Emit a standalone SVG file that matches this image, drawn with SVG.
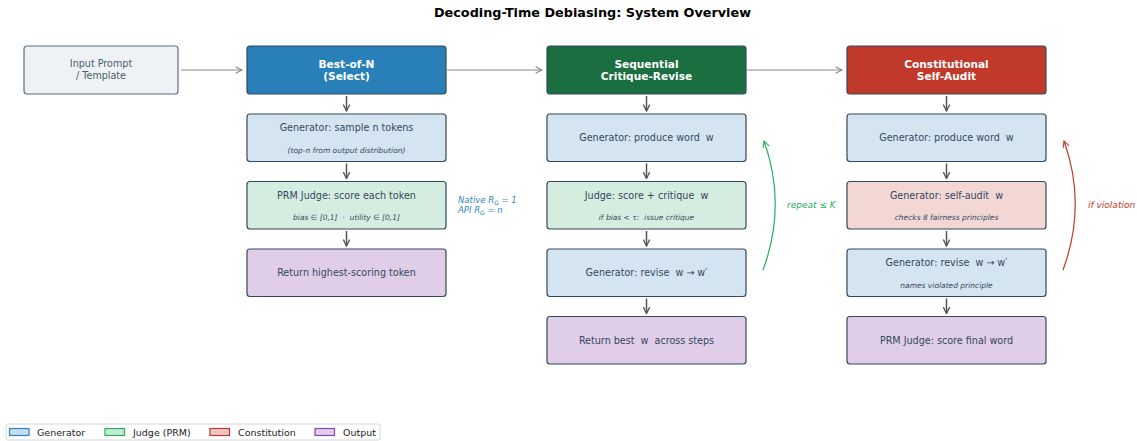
<svg xmlns="http://www.w3.org/2000/svg" width="1137" height="441" viewBox="0 0 1137 441">
<defs>
<marker id="hg" viewBox="0 0 10 10" refX="9" refY="5" markerWidth="8" markerHeight="8" markerUnits="userSpaceOnUse" orient="auto"><path d="M1,1 L9,5 L1,9" fill="none" stroke="#888" stroke-width="1.3"/></marker>
<marker id="hd" viewBox="0 0 10 10" refX="9" refY="5" markerWidth="8" markerHeight="8" markerUnits="userSpaceOnUse" orient="auto"><path d="M1,1 L9,5 L1,9" fill="none" stroke="#555" stroke-width="1.6"/></marker>
<marker id="hgr" viewBox="0 0 10 10" refX="9" refY="5" markerWidth="8" markerHeight="8" markerUnits="userSpaceOnUse" orient="auto"><path d="M1,1 L9,5 L1,9" fill="none" stroke="#27ae60" stroke-width="1.3"/></marker>
<marker id="hrd" viewBox="0 0 10 10" refX="9" refY="5" markerWidth="8" markerHeight="8" markerUnits="userSpaceOnUse" orient="auto"><path d="M1,1 L9,5 L1,9" fill="none" stroke="#c0392b" stroke-width="1.3"/></marker>
</defs>
<style>
text{font-family:"DejaVu Sans","Liberation Sans",sans-serif;white-space:pre}
.box{stroke:#34495e;stroke-width:1.2}
.gen{fill:#d4e4f0}.jud{fill:#d4ede0}.con{fill:#f2d7d5}.out{fill:#e0cde8}
.t{font-size:9.6px;fill:#34495e;text-anchor:middle}
.s{font-size:7.5px;font-style:italic;fill:#34495e;text-anchor:middle}
.h{font-size:10.6px;font-weight:bold;fill:#fff;text-anchor:middle}
.hc{stroke:#888;stroke-width:1.2;fill:none}
.vc{stroke:#555;stroke-width:1.5;fill:none}
.lg{font-size:9.5px;fill:#222}
</style>
<rect width="1137" height="441" fill="#fff"/>
<text x="592.5" y="17" style="font-size:12.8px;font-weight:bold;fill:#000;text-anchor:middle">Decoding-Time Debiasing: System Overview</text>

<g id="input">
<rect x="24" y="46" width="154" height="48" rx="3" fill="#eef2f4" stroke="#5d6d7e" stroke-width="1.2"/>
<text class="t" x="101" y="67" style="fill:#4d5d6c">Input Prompt</text>
<text class="t" x="101" y="79" style="fill:#4d5d6c">/ Template</text>
</g>

<g id="bon-header">
<rect class="box" x="247" y="46" width="199" height="48" rx="3" fill="#2980b9"/>
<text class="h" x="346.5" y="68">Best-of-N</text>
<text class="h" x="346.5" y="80">(Select)</text>
</g>
<g id="bon-gen">
<rect class="box gen" x="247" y="114" width="199" height="47.5" rx="3"/>
<text class="t" x="346.5" y="131">Generator: sample n tokens</text>
<text class="s" x="346.5" y="152.5">(top-n from output distribution)</text>
</g>
<g id="bon-judge">
<rect class="box jud" x="247" y="181.5" width="199" height="47.5" rx="3"/>
<text class="t" x="346.5" y="198.5">PRM Judge: score each token</text>
<text class="s" x="346.5" y="220">bias ∈ [0,1]  ·  utility ∈ [0,1]</text>
</g>
<g id="bon-out">
<rect class="box out" x="247" y="249" width="199" height="47.5" rx="3"/>
<text class="t" x="346.5" y="276">Return highest-scoring token</text>
</g>

<g id="scr-header">
<rect class="box" x="547" y="46" width="199" height="48" rx="3" fill="#1b6e40"/>
<text class="h" x="646.5" y="68">Sequential</text>
<text class="h" x="646.5" y="80">Critique-Revise</text>
</g>
<g id="scr-gen">
<rect class="box gen" x="547" y="114" width="199" height="47.5" rx="3"/>
<text class="t" x="646.5" y="141">Generator: produce word  w</text>
</g>
<g id="scr-judge">
<rect class="box jud" x="547" y="181.5" width="199" height="47.5" rx="3"/>
<text class="t" x="646.5" y="198.5">Judge: score + critique  w</text>
<text class="s" x="646.5" y="220">if bias &lt; τ:  issue critique</text>
</g>
<g id="scr-rev">
<rect class="box gen" x="547" y="249" width="199" height="47.5" rx="3"/>
<text class="t" x="646.5" y="276">Generator: revise  w → w′</text>
</g>
<g id="scr-out">
<rect class="box out" x="547" y="316.5" width="199" height="47.5" rx="3"/>
<text class="t" x="646.5" y="343.5">Return best  w  across steps</text>
</g>

<g id="csa-header">
<rect class="box" x="847" y="46" width="199" height="48" rx="3" fill="#c0392b"/>
<text class="h" x="946.5" y="68">Constitutional</text>
<text class="h" x="946.5" y="80">Self-Audit</text>
</g>
<g id="csa-gen">
<rect class="box gen" x="847" y="114" width="199" height="47.5" rx="3"/>
<text class="t" x="946.5" y="141">Generator: produce word  w</text>
</g>
<g id="csa-audit">
<rect class="box con" x="847" y="181.5" width="199" height="47.5" rx="3"/>
<text class="t" x="946.5" y="198.5">Generator: self-audit  w</text>
<text class="s" x="946.5" y="220">checks 8 fairness principles</text>
</g>
<g id="csa-rev">
<rect class="box gen" x="847" y="249" width="199" height="47.5" rx="3"/>
<text class="t" x="946.5" y="266">Generator: revise  w → w′</text>
<text class="s" x="946.5" y="287.5">names violated principle</text>
</g>
<g id="csa-out">
<rect class="box out" x="847" y="316.5" width="199" height="47.5" rx="3"/>
<text class="t" x="946.5" y="343.5">PRM Judge: score final word</text>
</g>

<g id="connectors">
<line class="hc" x1="181" y1="70" x2="242" y2="70" marker-end="url(#hg)"/>
<line class="hc" x1="447" y1="70" x2="542" y2="70" marker-end="url(#hg)"/>
<line class="hc" x1="747" y1="70" x2="842" y2="70" marker-end="url(#hg)"/>
<line class="vc" x1="346.5" y1="96" x2="346.5" y2="111" marker-end="url(#hd)"/>
<line class="vc" x1="346.5" y1="163.5" x2="346.5" y2="178.5" marker-end="url(#hd)"/>
<line class="vc" x1="346.5" y1="231" x2="346.5" y2="246" marker-end="url(#hd)"/>
<line class="vc" x1="646.5" y1="96" x2="646.5" y2="111" marker-end="url(#hd)"/>
<line class="vc" x1="646.5" y1="163.5" x2="646.5" y2="178.5" marker-end="url(#hd)"/>
<line class="vc" x1="646.5" y1="231" x2="646.5" y2="246" marker-end="url(#hd)"/>
<line class="vc" x1="646.5" y1="298.5" x2="646.5" y2="313.5" marker-end="url(#hd)"/>
<line class="vc" x1="946.5" y1="96" x2="946.5" y2="111" marker-end="url(#hd)"/>
<line class="vc" x1="946.5" y1="163.5" x2="946.5" y2="178.5" marker-end="url(#hd)"/>
<line class="vc" x1="946.5" y1="231" x2="946.5" y2="246" marker-end="url(#hd)"/>
<line class="vc" x1="946.5" y1="298.5" x2="946.5" y2="313.5" marker-end="url(#hd)"/>
<path d="M763,270 Q787,205 764,141" fill="none" stroke="#27ae60" stroke-width="1.2" marker-end="url(#hgr)"/>
<path d="M1063,270 Q1087,205 1064,141" fill="none" stroke="#c0392b" stroke-width="1.2" marker-end="url(#hrd)"/>
</g>

<g id="annotations">
<text x="458" y="203" style="font-size:8.5px;font-style:italic;fill:#2e86c1">Native R<tspan font-size="6px" dy="2">G</tspan><tspan dy="-2"> = 1</tspan></text>
<text x="458" y="213" style="font-size:8.5px;font-style:italic;fill:#2e86c1">API R<tspan font-size="6px" dy="2">G</tspan><tspan dy="-2"> = n</tspan></text>
<text x="787" y="208" style="font-size:9px;font-style:italic;fill:#27ae60">repeat ≤ K</text>
<text x="1088" y="208" style="font-size:9px;font-style:italic;fill:#c0392b">if violation</text>
</g>

<g id="legend">
<rect x="6" y="424" width="374" height="16" rx="2" fill="#fff" stroke="#ccc" stroke-width="0.8"/>
<rect x="9.5" y="428.5" width="19.5" height="7" fill="#c5dbee" stroke="#2e86c1" stroke-width="1.2"/>
<text class="lg" x="37" y="435.5">Generator</text>
<rect x="105" y="428.5" width="19.5" height="7" fill="#c2ebd3" stroke="#27ae60" stroke-width="1.2"/>
<text class="lg" x="133" y="435.5">Judge (PRM)</text>
<rect x="210" y="428.5" width="19.5" height="7" fill="#f0c4c0" stroke="#c0392b" stroke-width="1.2"/>
<text class="lg" x="238" y="435.5">Constitution</text>
<rect x="315" y="428.5" width="19.5" height="7" fill="#e2cdea" stroke="#8e44ad" stroke-width="1.2"/>
<text class="lg" x="343" y="435.5">Output</text>
</g>
</svg>
